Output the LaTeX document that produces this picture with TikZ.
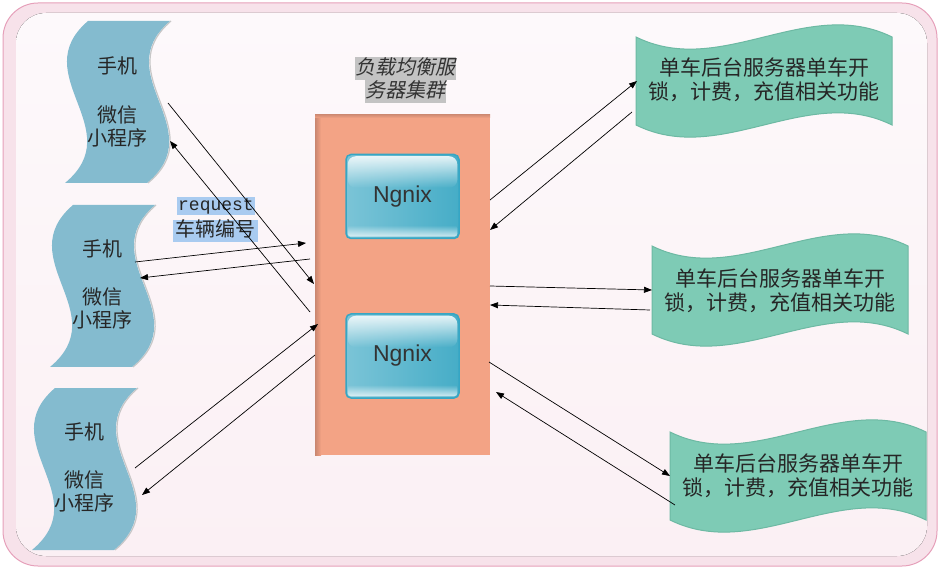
\documentclass[tikz,border=0pt]{standalone}
\usepackage{fontspec}
\setmainfont{Noto Sans CJK SC}
\newfontfamily\cjkit[FakeSlant=0.22]{Noto Sans CJK SC}
\newfontfamily\monof{Liberation Mono}
\newfontfamily\latinsans{Liberation Sans}
\usetikzlibrary{arrows.meta,calc,fadings}
\definecolor{bgpink}{HTML}{F7E2EA}
\definecolor{bgborder}{HTML}{E6A0BA}
\definecolor{bginnertop}{HTML}{FDF9FB}
\definecolor{bginnerbot}{HTML}{FBF0F4}
\definecolor{phoneblue}{HTML}{84BBCF}
\definecolor{servegreen}{HTML}{7ECBB5}
\definecolor{servedge}{HTML}{6DB9A3}
\definecolor{boxorange}{HTML}{F3A385}
\definecolor{boxdark}{HTML}{C98670}
\definecolor{ngborder}{HTML}{36A6C4}
\definecolor{ngleft}{HTML}{7BC4D7}
\definecolor{ngright}{HTML}{46ADC7}
\definecolor{reqblue}{HTML}{A9CBF0}
\definecolor{titlegray}{HTML}{C3C3C3}
\newcommand\phonetape[1]{%
  \begin{scope}[shift={#1}]
    \draw[black!22, line width=1.2pt] (106,0) .. controls (43,54) and (148,108) .. (83,162);
    \fill[phoneblue] (23,0) -- (105,0) .. controls (42,54) and (147,108) .. (82,162)
      -- (0,162) .. controls (65,108) and (-40,54) .. (23,0) -- cycle;
  \end{scope}}
\newcommand\servewave[1]{%
  \begin{scope}[shift={#1}]
    \fill[servegreen, draw=servedge, line width=1pt]
      (0,0) .. controls (85,42) and (171,-42) .. (256,0) -- (256,88)
      .. controls (171,46) and (85,130) .. (0,88) -- cycle;
  \end{scope}}
\tikzset{
  phonetxt/.style={font=\fontsize{20}{23}\selectfont, text=black!85, inner sep=0pt, align=center},
  servetxt/.style={font=\fontsize{21}{24}\selectfont, text=black!85, inner sep=0pt, align=center},
  titlebox/.style={fill=titlegray, font=\cjkit\fontsize{20}{23}\selectfont, text=black!80,
    inner xsep=0.5pt, inner ysep=1.5pt, text height=16pt, text depth=4pt},
  reqbox/.style={fill=reqblue, inner xsep=1pt, inner ysep=1pt, text=black!85},
  ngbox/.style={draw=ngborder, line width=1.5pt, rounded corners=5pt, left color=ngleft,
    right color=ngright, minimum width=113pt, minimum height=84pt, inner sep=0pt},
  ngtext/.style={font=\latinsans\fontsize{23}{23}\selectfont, text=black!80, inner sep=0pt},
  conn/.style={-{Triangle[length=8pt,width=6pt]}, line width=0.7pt, black},
}
\begin{document}
\begin{tikzpicture}[x=1pt,y=-1pt]
\useasboundingbox (0,0) rectangle (940,569);
% background
\fill[bgpink, draw=bgborder, line width=1pt, rounded corners=35pt] (3,3) rectangle (937,566);
\fill[top color=bginnertop, bottom color=bginnerbot, rounded corners=30pt] (16,13) rectangle (927,556);

% phones
\phonetape{(65,21)}
\phonetape{(50,205)}
\phonetape{(32,388)}
\node[phonetxt] (p1a) at (117,66) {手机};
\node[phonetxt] (p1b) at (117,126) {微信\\小程序};
\node[phonetxt] (p2a) at (102,249) {手机};
\node[phonetxt] (p2b) at (102,308.5) {微信\\小程序};
\node[phonetxt] (p3a) at (84,432) {手机};
\node[phonetxt] (p3b) at (84,491.5) {微信\\小程序};

% cluster box
\fill[boxorange] (315,115) rectangle (490,455);
\fill[left color=boxdark, right color=boxorange] (315,115) rectangle (321,455);
\fill[top color=boxdark!70!boxorange, bottom color=boxorange] (315,115) rectangle (490,118);
\coordinate (cl) at (402.5,285);

% title
\node[titlebox] (t1) at (405,68.5) {负载均衡服};
\node[titlebox] (t2) at (405,91.5) {务器集群};

% Ngnix boxes
\foreach \nm/\cy in {n1/196.5, n2/356} {
  \node[ngbox] (\nm) at (402.5,\cy) {};
  \fill[white, fill opacity=0.85, path fading=south, rounded corners=8pt]
    ($(\nm.north west)+(2.5,2.5)$) rectangle ($(\nm.north east)+(-2.5,34)$);
  \fill[white, fill opacity=0.75, path fading=north, rounded corners=3pt]
    ($(\nm.south west)+(2.5,-14)$) rectangle ($(\nm.south east)+(-2.5,-2.5)$);
  \node[ngtext] at (\nm) {Ngnix};
}

% servers
\servewave{(636,37)}
\servewave{(652,246)}
\servewave{(670,432)}
\node[servetxt] (s1) at (764,80) {单车后台服务器单车开\\锁，计费，充值相关功能};
\node[servetxt] (s2) at (780,291) {单车后台服务器单车开\\锁，计费，充值相关功能};
\node[servetxt] (s3) at (798,476) {单车后台服务器单车开\\锁，计费，充值相关功能};

% request label
\node[reqbox, font=\monof\fontsize{18}{18}\selectfont, text height=12pt, text depth=4pt] (rq) at (216,206.5) {request};
\node[reqbox, font=\fontsize{20}{20}\selectfont, text height=16pt, text depth=4pt, inner xsep=2.5pt] (rq2) at (215.5,231) {车辆编号};

% connector end points
\coordinate (a1s) at (168,103);  \coordinate (a1e) at (314,284);
\coordinate (a2s) at (310,312);  \coordinate (a2e) at (170,141);
\coordinate (a3s) at (135,262);  \coordinate (a3e) at (306,243);
\coordinate (a4s) at (310,259);  \coordinate (a4e) at (140,278);
\coordinate (a5s) at (135,468);  \coordinate (a5e) at (318,324);
\coordinate (a6s) at (315,355);  \coordinate (a6e) at (142,495);
\coordinate (b1s) at (490,200);  \coordinate (b1e) at (637,81);
\coordinate (b2s) at (632,112);  \coordinate (b2e) at (490,230);
\coordinate (b3s) at (490,286);  \coordinate (b3e) at (652,290);
\coordinate (b4s) at (650,310);  \coordinate (b4e) at (490,305);
\coordinate (b5s) at (489,362);  \coordinate (b5e) at (670,476);
\coordinate (b6s) at (675,505);  \coordinate (b6e) at (496,392);

\foreach \c in {a1,a2,a3,a4,a5,a6,b1,b2,b3,b4,b5,b6}
  \draw[conn] (\c s) -- (\c e);
\end{tikzpicture}
\end{document}
